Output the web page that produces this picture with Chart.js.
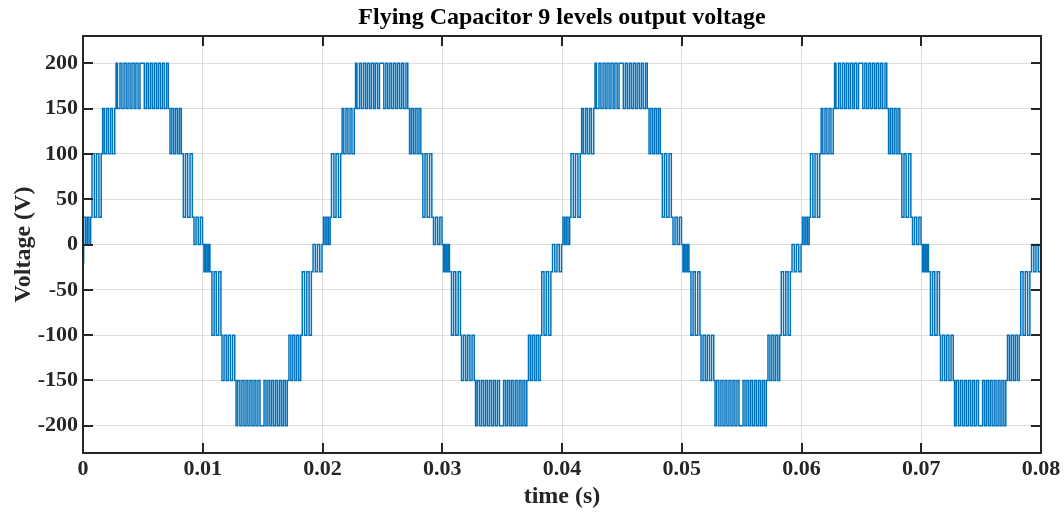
<!DOCTYPE html>
<html>
<head>
<meta charset="utf-8">
<title>Flying Capacitor 9 levels output voltage</title>
<script src="https://cdn.jsdelivr.net/npm/chart.js@4.4.1/dist/chart.umd.min.js"></script>
<style>
  html, body { margin: 0; padding: 0; background: #fff; }
  #wrap { width: 1064px; height: 513px; }
</style>
</head>
<body>
<div id="wrap"><canvas id="fc-chart" width="1064" height="513"></canvas></div>
<script>
// Output voltage of the 9-level flying capacitor converter.
// One fundamental period (20 ms) is described as a chain of steady levels;
// between two consecutive levels the output switches back and forth at the
// edge times listed in bandEdges (ms, relative to the period start).
var periodStarts = [0, 20, 40, 60];              // ms
var levels = [0, 30, 100, 150, 200, 150, 100, 30, 0, -30, -100, -150, -200, -150, -100, -30, 0];
var bandEdges = [
    [0.08, 0.22, 0.36, 0.50, 0.64],                                                      // 0 -> 30
    [0.75, 0.95, 1.13, 1.33, 1.52],                                                      // 30 -> 100
    [1.64, 1.78, 1.96, 2.12, 2.30, 2.46, 2.65],                                          // 100 -> 150
    [2.76, 2.88, 3.09, 3.25, 3.43, 3.60, 3.76, 3.93, 4.09, 4.27, 4.42, 4.60, 4.76],      // 150 -> 200
    [5.12, 5.29, 5.45, 5.62, 5.78, 5.95, 6.12, 6.28, 6.45, 6.62, 6.78, 6.97, 7.12],      // 200 -> 150
    [7.27, 7.42, 7.58, 7.74, 7.90, 8.06, 8.21],                                          // 150 -> 100
    [8.38, 8.56, 8.74, 8.94, 9.13],                                                      // 100 -> 30
    [9.27, 9.44, 9.62, 9.80, 9.98],                                                      // 30 -> 0
    [10.10, 10.22, 10.35, 10.48, 10.60],                                                 // 0 -> -30
    [10.77, 10.95, 11.13, 11.33, 11.52],                                                 // -30 -> -100
    [11.61, 11.78, 11.96, 12.13, 12.31, 12.49, 12.67],                                   // -100 -> -150
    [12.78, 12.92, 13.10, 13.27, 13.44, 13.61, 13.77, 13.94, 14.11, 14.28, 14.44, 14.61, 14.78], // -150 -> -200
    [15.12, 15.28, 15.44, 15.60, 15.76, 15.92, 16.09, 16.25, 16.42, 16.58, 16.74, 16.90, 17.06], // -200 -> -150
    [17.20, 17.36, 17.52, 17.69, 17.85, 18.02, 18.18],                                   // -150 -> -100
    [18.31, 18.50, 18.69, 18.88, 19.07],                                                 // -100 -> -30
    [19.21, 19.40, 19.58, 19.77, 19.96]                                                  // -30 -> 0
];
var startVoltage = -20;                          // first sample at t = 0
var endTime = 80;                                // ms

var xTicks = [0, 0.01, 0.02, 0.03, 0.04, 0.05, 0.06, 0.07, 0.08];
var xTickLabels = ['0', '0.01', '0.02', '0.03', '0.04', '0.05', '0.06', '0.07', '0.08'];
var yTicks = [-200, -150, -100, -50, 0, 50, 100, 150, 200];
var yTickLabels = ['-200', '-150', '-100', '-50', '0', '50', '100', '150', '200'];

(function() {
    'use strict';

    var FONT = "'Liberation Serif', 'Times New Roman', serif";
    var INK = '#262626';
    var TITLE = 'Flying Capacitor 9 levels output voltage';

    /**
     * Turn the level chain into a stepped point list (x in seconds)
     */
    function buildWaveform() {
        var pts = [{ x: 0, y: startVoltage }, { x: 0, y: levels[0] }];
        var cur = levels[0];

        periodStarts.forEach(function(p0) {
            bandEdges.forEach(function(edges, i) {
                var a = levels[i], b = levels[i + 1];
                edges.forEach(function(e) {
                    var t = (p0 + e) / 1000;
                    var next = (cur === a) ? b : a;
                    pts.push({ x: t, y: cur });
                    pts.push({ x: t, y: next });
                    cur = next;
                });
            });
        });
        pts.push({ x: endTime / 1000, y: cur });
        return pts;
    }

    /**
     * Axes box with inward tick marks on every side, title centred on the axes
     */
    var boxTicks = {
        id: 'boxTicks',
        afterDraw: function(chart) {
            var ctx = chart.ctx;
            var a = chart.chartArea;
            var xs = chart.scales.x, ys = chart.scales.y;
            var len = 10;

            ctx.save();
            ctx.strokeStyle = INK;
            ctx.lineWidth = 2;
            ctx.beginPath();
            xs.ticks.forEach(function(t) {
                var px = Math.round(xs.getPixelForValue(t.value));
                ctx.moveTo(px, a.bottom); ctx.lineTo(px, a.bottom - len);
                ctx.moveTo(px, a.top); ctx.lineTo(px, a.top + len);
            });
            ys.ticks.forEach(function(t) {
                var py = Math.round(ys.getPixelForValue(t.value));
                ctx.moveTo(a.left, py); ctx.lineTo(a.left + len, py);
                ctx.moveTo(a.right, py); ctx.lineTo(a.right - len, py);
            });
            ctx.stroke();
            ctx.strokeRect(a.left, a.top, a.right - a.left, a.bottom - a.top);

            ctx.fillStyle = '#000';
            ctx.font = 'bold 24px ' + FONT;
            ctx.textAlign = 'center';
            ctx.textBaseline = 'middle';
            ctx.fillText(TITLE, (a.left + a.right) / 2, 18);
            ctx.restore();
        }
    };

    var ctx = document.getElementById('fc-chart').getContext('2d');
    new Chart(ctx, {
        type: 'line',
        data: {
            datasets: [{
                data: buildWaveform(),
                borderColor: '#0072BD',
                borderWidth: 1.5,
                pointRadius: 0,
                tension: 0,
                fill: false
            }]
        },
        options: {
            responsive: false,
            animation: false,
            devicePixelRatio: 1,
            parsing: false,
            normalized: true,
            layout: { padding: { left: 0, right: 23, top: 36, bottom: 0 } },
            plugins: {
                legend: { display: false },
                tooltip: { enabled: false },
                title: { display: false }
            },
            scales: {
                x: {
                    type: 'linear',
                    min: 0,
                    max: 0.08,
                    afterBuildTicks: function(scale) {
                        scale.ticks = xTicks.map(function(v) { return { value: v }; });
                    },
                    afterFit: function(scale) { scale.height = 60; },
                    ticks: {
                        color: INK,
                        padding: 3,
                        maxRotation: 0,
                        autoSkip: false,
                        font: { family: FONT, size: 22, weight: 'bold' },
                        callback: function(v, i) { return xTickLabels[i]; }
                    },
                    grid: { color: '#dedede', lineWidth: 1, drawTicks: false },
                    border: { display: false },
                    title: {
                        display: true,
                        text: 'time (s)',
                        color: INK,
                        font: { family: FONT, size: 24, weight: 'bold' },
                        padding: { top: 0, bottom: 1.6 }
                    }
                },
                y: {
                    type: 'linear',
                    min: -230,
                    max: 230,
                    afterBuildTicks: function(scale) {
                        scale.ticks = yTicks.map(function(v) { return { value: v }; });
                    },
                    afterFit: function(scale) { scale.width = 83; },
                    ticks: {
                        color: INK,
                        padding: 5,
                        autoSkip: false,
                        font: { family: FONT, size: 22, weight: 'bold' },
                        callback: function(v, i) { return yTickLabels[i]; }
                    },
                    grid: { color: '#dedede', lineWidth: 1, drawTicks: false },
                    border: { display: false },
                    title: {
                        display: true,
                        text: 'Voltage (V)',
                        color: INK,
                        font: { family: FONT, size: 24, weight: 'bold' },
                        padding: { top: 9, bottom: 0 }
                    }
                }
            }
        },
        plugins: [boxTicks]
    });
})();
</script>
</body>
</html>
